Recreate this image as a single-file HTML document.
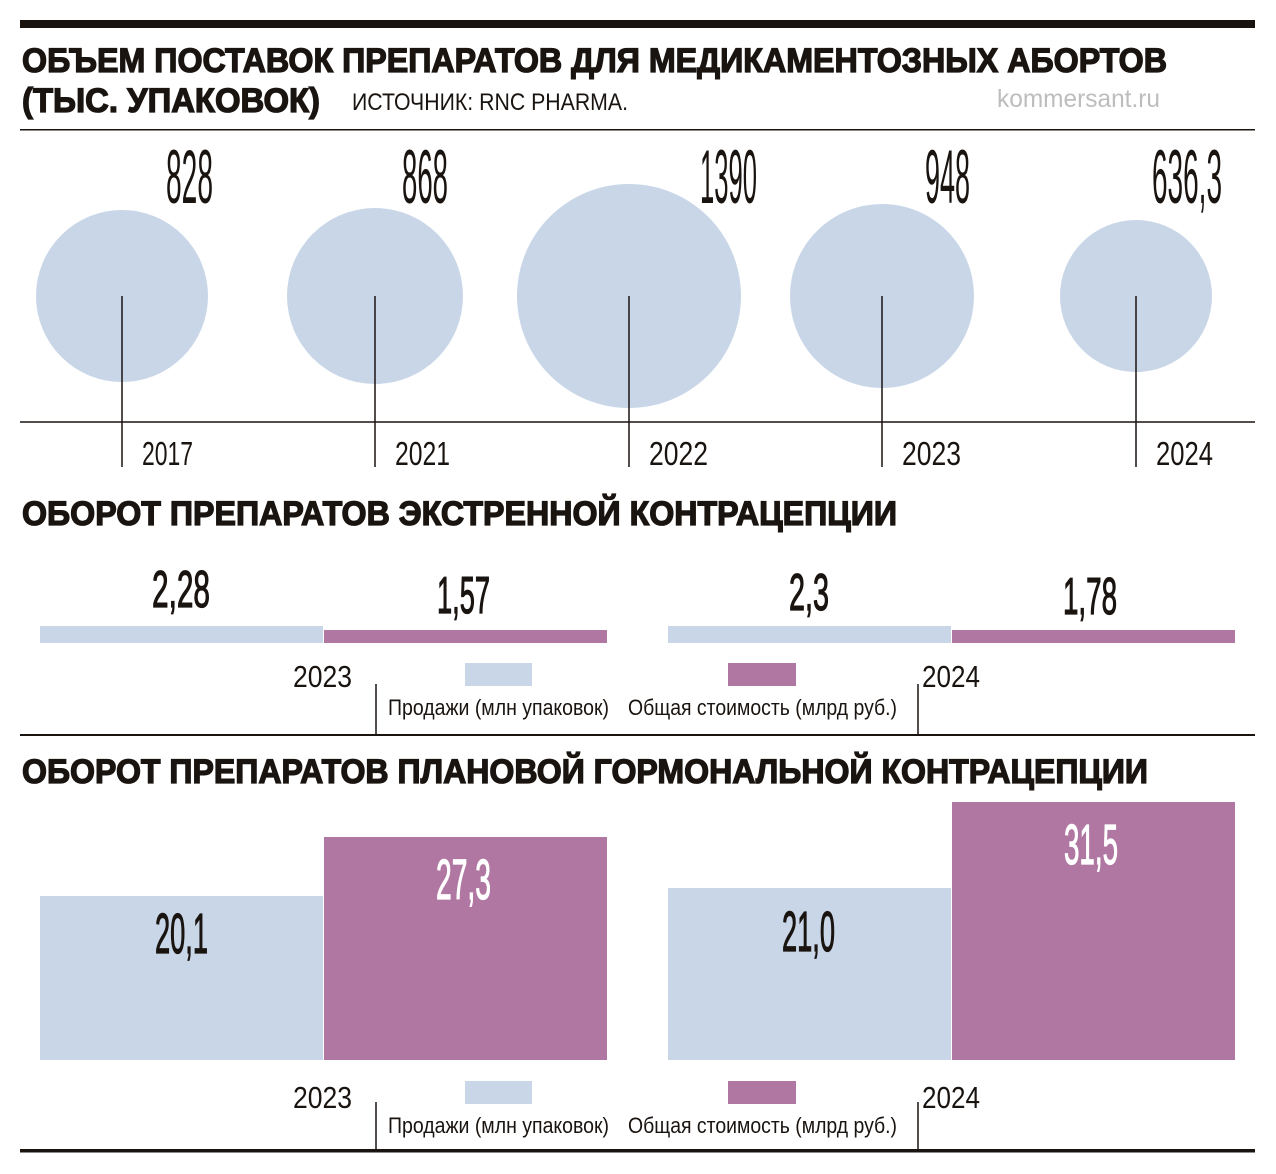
<!DOCTYPE html>
<html><head><meta charset="utf-8"><style>
html,body{margin:0;padding:0;background:#fff;}
svg{display:block}
.t{font-family:"Liberation Sans","DejaVu Sans",sans-serif;font-weight:bold;fill:#1a1410;stroke:#1a1410;stroke-width:1.3}
.n{font-family:"Liberation Sans Narrow","Liberation Sans",sans-serif;fill:#1a1410}
.b{stroke:#1a1410;stroke-width:1.2}
.w{fill:#fff;stroke:#fff;stroke-width:1.2}
</style></head><body>
<svg width="1276" height="1174" viewBox="0 0 1276 1174" xmlns="http://www.w3.org/2000/svg">
<rect x="20" y="20" width="1235" height="8" fill="#1a1410"/>
<text class="t" x="22" y="72" font-size="34" textLength="1145" lengthAdjust="spacingAndGlyphs">ОБЪЕМ ПОСТАВОК ПРЕПАРАТОВ ДЛЯ МЕДИКАМЕНТОЗНЫХ АБОРТОВ</text>
<text class="t" x="22" y="112" font-size="34" textLength="298" lengthAdjust="spacingAndGlyphs">(ТЫС. УПАКОВОК)</text>
<text class="n" x="352" y="110" font-size="24" textLength="276" lengthAdjust="spacingAndGlyphs">ИСТОЧНИК: RNC PHARMA.</text>
<text class="n" x="997" y="107" font-size="25" style="fill:#bdbdbd" textLength="163" lengthAdjust="spacingAndGlyphs">kommersant.ru</text>
<rect x="20" y="129" width="1235" height="1.5" fill="#1a1410"/>

<g fill="#c8d6e7">
<circle cx="122" cy="296" r="86"/>
<circle cx="375" cy="296" r="88"/>
<circle cx="629" cy="296" r="112"/>
<circle cx="882" cy="296" r="92"/>
<circle cx="1136" cy="296" r="76"/>
</g>
<g stroke="#1a1410" stroke-width="1.5">
<line x1="122" y1="296" x2="122" y2="467"/>
<line x1="375" y1="296" x2="375" y2="467"/>
<line x1="629" y1="296" x2="629" y2="467"/>
<line x1="882" y1="296" x2="882" y2="467"/>
<line x1="1136" y1="296" x2="1136" y2="467"/>
<line x1="20" y1="422" x2="1255" y2="422"/>
</g>
<text class="n" x="166" y="203" font-size="76" textLength="47" lengthAdjust="spacingAndGlyphs">828</text>
<text class="n" x="402" y="203" font-size="76" textLength="46" lengthAdjust="spacingAndGlyphs">868</text>
<text class="n" x="700" y="203" font-size="76" textLength="57" lengthAdjust="spacingAndGlyphs">1390</text>
<text class="n" x="925" y="203" font-size="76" textLength="45" lengthAdjust="spacingAndGlyphs">948</text>
<text class="n" x="1152" y="203" font-size="76" textLength="70" lengthAdjust="spacingAndGlyphs">636,3</text>
<text class="n" x="142" y="465" font-size="33" textLength="51" lengthAdjust="spacingAndGlyphs">2017</text>
<text class="n" x="395" y="465" font-size="33" textLength="55" lengthAdjust="spacingAndGlyphs">2021</text>
<text class="n" x="649" y="465" font-size="33" textLength="59" lengthAdjust="spacingAndGlyphs">2022</text>
<text class="n" x="902" y="465" font-size="33" textLength="59" lengthAdjust="spacingAndGlyphs">2023</text>
<text class="n" x="1156" y="465" font-size="33" textLength="57" lengthAdjust="spacingAndGlyphs">2024</text>

<text class="t" x="22" y="525" font-size="34" textLength="875" lengthAdjust="spacingAndGlyphs">ОБОРОТ ПРЕПАРАТОВ ЭКСТРЕННОЙ КОНТРАЦЕПЦИИ</text>
<rect x="40" y="626" width="283" height="17" fill="#c8d6e7"/>
<rect x="324" y="630" width="283" height="13" fill="#b077a2"/>
<rect x="668" y="626" width="283" height="17" fill="#c8d6e7"/>
<rect x="952" y="630" width="283" height="13" fill="#b077a2"/>
<text class="n b" x="152" y="607" font-size="52" textLength="58" lengthAdjust="spacingAndGlyphs">2,28</text>
<text class="n b" x="437" y="613" font-size="52" textLength="53" lengthAdjust="spacingAndGlyphs">1,57</text>
<text class="n b" x="789" y="610" font-size="52" textLength="40" lengthAdjust="spacingAndGlyphs">2,3</text>
<text class="n b" x="1063" y="614" font-size="52" textLength="54" lengthAdjust="spacingAndGlyphs">1,78</text>
<text class="n" x="293" y="687" font-size="31" textLength="59" lengthAdjust="spacingAndGlyphs">2023</text>
<text class="n" x="922" y="687" font-size="31" textLength="58" lengthAdjust="spacingAndGlyphs">2024</text>
<rect x="465" y="663" width="67" height="23" fill="#c8d6e7"/>
<rect x="728" y="663" width="68" height="23" fill="#b077a2"/>
<line x1="376" y1="684" x2="376" y2="735" stroke="#1a1410" stroke-width="1.5"/>
<line x1="918" y1="684" x2="918" y2="735" stroke="#1a1410" stroke-width="1.5"/>
<text class="n" x="388" y="715" font-size="22" textLength="221" lengthAdjust="spacingAndGlyphs">Продажи (млн упаковок)</text>
<text class="n" x="628" y="715" font-size="22" textLength="269" lengthAdjust="spacingAndGlyphs">Общая стоимость (млрд руб.)</text>
<rect x="20" y="734" width="1235" height="2" fill="#1a1410"/>

<text class="t" x="22" y="783" font-size="34" textLength="1126" lengthAdjust="spacingAndGlyphs">ОБОРОТ ПРЕПАРАТОВ ПЛАНОВОЙ ГОРМОНАЛЬНОЙ КОНТРАЦЕПЦИИ</text>
<rect x="40" y="896" width="283" height="164" fill="#c8d6e7"/>
<rect x="324" y="837" width="283" height="223" fill="#b077a2"/>
<rect x="668" y="888" width="283" height="172" fill="#c8d6e7"/>
<rect x="952" y="802" width="283" height="258" fill="#b077a2"/>
<text class="n b" x="155" y="953" font-size="57" textLength="53" lengthAdjust="spacingAndGlyphs">20,1</text>
<text class="n w" x="436" y="899" font-size="57" textLength="55" lengthAdjust="spacingAndGlyphs">27,3</text>
<text class="n b" x="782" y="951" font-size="57" textLength="53" lengthAdjust="spacingAndGlyphs">21,0</text>
<text class="n w" x="1064" y="864" font-size="57" textLength="54" lengthAdjust="spacingAndGlyphs">31,5</text>
<text class="n" x="293" y="1108" font-size="31" textLength="59" lengthAdjust="spacingAndGlyphs">2023</text>
<text class="n" x="922" y="1108" font-size="31" textLength="58" lengthAdjust="spacingAndGlyphs">2024</text>
<rect x="465" y="1081" width="67" height="23" fill="#c8d6e7"/>
<rect x="728" y="1081" width="68" height="23" fill="#b077a2"/>
<line x1="376" y1="1102" x2="376" y2="1150" stroke="#1a1410" stroke-width="1.5"/>
<line x1="918" y1="1102" x2="918" y2="1150" stroke="#1a1410" stroke-width="1.5"/>
<text class="n" x="388" y="1133" font-size="22" textLength="221" lengthAdjust="spacingAndGlyphs">Продажи (млн упаковок)</text>
<text class="n" x="628" y="1133" font-size="22" textLength="269" lengthAdjust="spacingAndGlyphs">Общая стоимость (млрд руб.)</text>
<rect x="20" y="1149" width="1235" height="3.5" fill="#1a1410"/>
</svg>
</body></html>
